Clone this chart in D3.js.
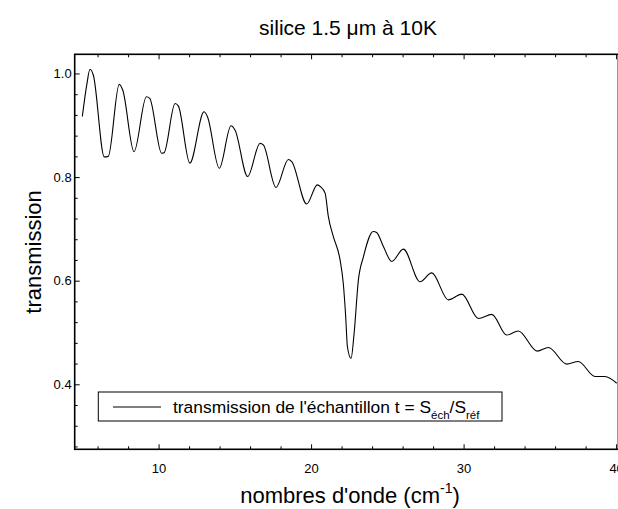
<!DOCTYPE html>
<html>
<head>
<meta charset="utf-8">
<script src="https://cdn.jsdelivr.net/npm/d3@7"></script>
<style>
  html, body { margin: 0; padding: 0; background: #fff; }
  svg { display: block; }
  text { font-family: "Liberation Sans", Arial, sans-serif; fill: #000; }
</style>
</head>
<body>
<svg id="chart" width="618" height="509"></svg>
<script>
// ---- data ----
const waveNumber = [5.0, 5.29, 5.5, 5.72, 6.44, 6.7, 7.42, 7.65, 8.39, 9.2, 9.42, 10.2, 10.36,
  11.08, 11.3, 12.05, 12.98, 13.2, 13.98, 14.75, 15.01, 15.84, 16.65, 16.87, 17.7, 18.51, 18.73,
  19.71, 20.41, 20.63, 20.92, 21.13, 21.46, 21.9, 22.11, 22.27, 22.38, 22.62, 22.82, 23.1, 23.43,
  24.08, 24.3, 24.74, 25.29, 26.05, 27.14, 27.91, 29.0, 29.88, 30.97, 31.85, 32.83, 33.59, 34.83,
  35.56, 36.76, 37.52, 38.62, 39.27, 40.04];
const transmission = [0.917, 0.978, 1.008, 0.997, 0.839, 0.840, 0.979, 0.968, 0.849, 0.955, 0.952, 0.846, 0.847,
  0.942, 0.937, 0.827, 0.926, 0.917, 0.817, 0.899, 0.891, 0.801, 0.865, 0.862, 0.780, 0.834, 0.830,
  0.748, 0.785, 0.781, 0.769, 0.724, 0.685, 0.640, 0.595, 0.530, 0.473, 0.450, 0.498, 0.601, 0.646,
  0.695, 0.693, 0.666, 0.637, 0.661, 0.598, 0.615, 0.563, 0.574, 0.527, 0.535, 0.495, 0.503, 0.464,
  0.471, 0.439, 0.444, 0.415, 0.415, 0.402];

const xMajorTicks = [10, 20, 30, 40];
const xMinorTicks = [6, 8, 12, 14, 16, 18, 22, 24, 26, 28, 32, 34, 36, 38];
const yMajorTicks = [0.4, 0.6, 0.8, 1.0];
const yMinorTicks = [0.28, 0.32, 0.36, 0.44, 0.48, 0.52, 0.56, 0.64, 0.68, 0.72, 0.76, 0.84, 0.88, 0.92, 0.96];

const titleText = "silice 1.5 \u03BCm \u00E0 10K";
const yLabelText = "transmission";
const legendText = "transmission de l'\u00E9chantillon t = S";

// ---- layout ----
const svg = d3.select("#chart");
const L = 74.7, R = 618.4, T = 54.3, B = 449.3;

const x = d3.scaleLinear().domain([4.5, 40.15]).range([L, R]);
const y = d3.scaleLinear().domain([0.2745, 1.037]).range([B, T]);

const fmt = d3.format(".1f");

// clip
svg.append("defs").append("clipPath").attr("id", "clip")
  .append("rect").attr("x", L).attr("y", T).attr("width", R - L).attr("height", B - T);

// curve
const pts = waveNumber.map((v, i) => [v, transmission[i]]);
svg.append("path")
  .datum(pts)
  .attr("clip-path", "url(#clip)")
  .attr("fill", "none")
  .attr("stroke", "#000")
  .attr("stroke-width", 1.1)
  .attr("d", d3.line().x(d => x(d[0])).y(d => y(d[1])).curve(d3.curveMonotoneX));

// axes
function styleAxis(g) {
  g.select(".domain").remove();
  g.selectAll(".tick line").attr("stroke", "#000").attr("stroke-width", 1);
  g.selectAll("text").attr("font-size", 13).attr("font-family", "'Liberation Sans', Arial, sans-serif");
}
svg.append("g").attr("transform", `translate(0,${B})`)
  .call(d3.axisBottom(x).tickValues(xMajorTicks).tickSize(-5).tickPadding(14).tickFormat(d3.format("d")))
  .call(styleAxis);
svg.append("g").attr("transform", `translate(0,${B})`)
  .call(d3.axisBottom(x).tickValues(xMinorTicks).tickSize(-3).tickFormat(""))
  .call(styleAxis);
svg.append("g").attr("transform", `translate(0,${T})`)
  .call(d3.axisTop(x).tickValues(xMajorTicks).tickSize(-5).tickFormat(""))
  .call(styleAxis);
svg.append("g").attr("transform", `translate(0,${T})`)
  .call(d3.axisTop(x).tickValues(xMinorTicks).tickSize(-3).tickFormat(""))
  .call(styleAxis);
svg.append("g").attr("transform", `translate(${L},0)`)
  .call(d3.axisLeft(y).tickValues(yMajorTicks).tickSize(-5).tickPadding(3).tickFormat(fmt))
  .call(styleAxis);
svg.append("g").attr("transform", `translate(${L},0)`)
  .call(d3.axisLeft(y).tickValues(yMinorTicks).tickSize(-3).tickFormat(""))
  .call(styleAxis);

// frame
svg.append("rect").attr("x", L).attr("y", T).attr("width", R - L).attr("height", B - T)
  .attr("fill", "none").attr("stroke", "#000").attr("stroke-width", 1.6);

// title
svg.append("text").attr("x", 348).attr("y", 35).attr("text-anchor", "middle")
  .attr("font-size", 21).text(titleText);

// y label
svg.append("text").attr("transform", "translate(41,252) rotate(-90)")
  .attr("text-anchor", "middle").attr("font-size", 22).text(yLabelText);

// x label
const xl = svg.append("text").attr("x", 350).attr("y", 503).attr("text-anchor", "middle").attr("font-size", 22);
xl.append("tspan").text("nombres d'onde (cm");
xl.append("tspan").attr("font-size", 14).attr("dy", -10).text("-1");
xl.append("tspan").attr("dy", 10).text(")");

// legend
svg.append("rect").attr("x", 98.3).attr("y", 392).attr("width", 403.7).attr("height", 29)
  .attr("fill", "#fff").attr("stroke", "#000").attr("stroke-width", 1);
svg.append("line").attr("x1", 113).attr("x2", 161).attr("y1", 407).attr("y2", 407)
  .attr("stroke", "#000").attr("stroke-width", 1.1);
const lt = svg.append("text").attr("x", 173).attr("y", 413).attr("font-size", 17.4);
lt.append("tspan").text(legendText);
lt.append("tspan").attr("font-size", 11.5).attr("dy", 6).text("\u00E9ch");
lt.append("tspan").attr("dy", -6).text("/S");
lt.append("tspan").attr("font-size", 11.5).attr("dy", 6).text("r\u00E9f");
</script>
</body>
</html>
